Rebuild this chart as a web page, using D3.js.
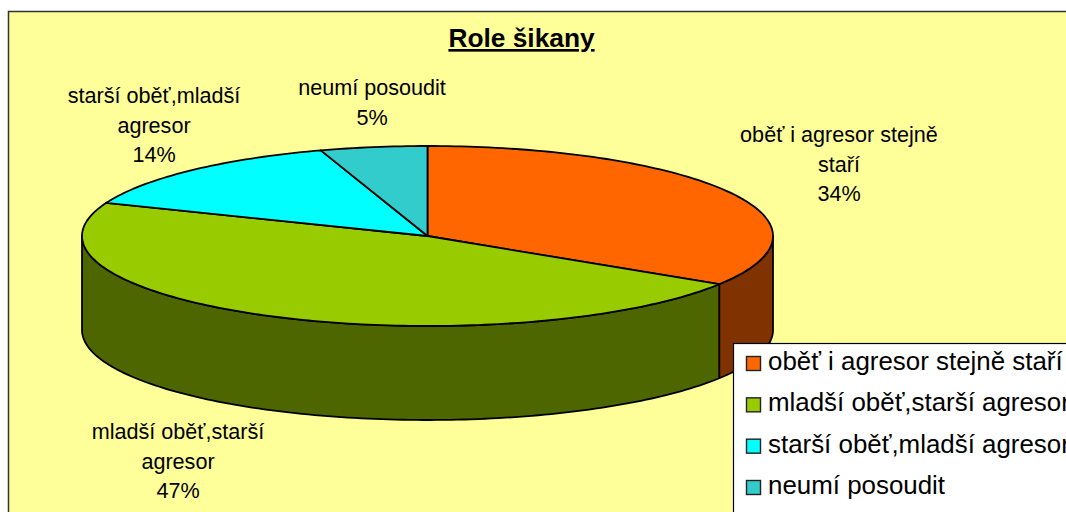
<!DOCTYPE html>
<html lang="cs">
<head>
<meta charset="utf-8">
<script src="https://cdn.jsdelivr.net/npm/d3@7"></script>
<style>
html,body{margin:0;padding:0;background:#fff;overflow:hidden}
svg{display:block}
text{font-family:"Liberation Sans",Arial,sans-serif;fill:#000}
</style>
</head>
<body>
<svg id="c" width="1066" height="512"></svg>
<script>
const chartTitle = "Role šikany";
const categories = ["oběť i agresor stejně staří","mladší oběť,starší agresor","starší oběť,mladší agresor","neumí posoudit"];
const values = [34,47,14,5];
const topColors = ["#ff6600","#99cc00","#00ffff","#33cccc"];
const sideColors = ["#803300","#4d6600","#008080","#1a6666"];
const labelLines = [["oběť i agresor stejně","staří"],["mladší oběť,starší","agresor"],["starší oběť,mladší","agresor"],["neumí posoudit"]];

const W=1066,H=512;
const svg=d3.select("#c");
const cx=427.5, cy=236, rx=345.5, ry=90, depth=94;
const sx=d3.scaleLinear().domain([-1,1]).range([cx-rx,cx+rx]);
const sy=d3.scaleLinear().domain([-1,1]).range([cy-ry,cy+ry]);
const pt=(a,dy=0)=>[sx(Math.sin(a)),sy(-Math.cos(a))+dy];
const line=d3.line();
const arcPts=(a0,a1,dy=0)=>{const n=Math.max(2,Math.ceil(Math.abs(a1-a0)/0.02));
  return d3.range(n+1).map(i=>pt(a0+(a1-a0)*i/n,dy));};

// frame
svg.append("rect").attr("x",8.5).attr("y",11.5).attr("width",W+20).attr("height",H+20)
  .attr("fill","#ffff99").attr("stroke","#333").attr("stroke-width",1.5);

// title
svg.append("text").attr("x",521.5).attr("y",47).attr("text-anchor","middle")
  .attr("font-size",26.3).attr("font-weight","bold").attr("text-decoration","underline").text(chartTitle);

const arcs=d3.pie().sort(null)(values);
const g=svg.append("g").attr("stroke","#000").attr("stroke-width",1.8).attr("stroke-linejoin","round");

// side walls (front half only)
arcs.forEach((d,i)=>{
  const a0=Math.max(d.startAngle,Math.PI/2), a1=Math.min(d.endAngle,Math.PI*1.5);
  if(a1<=a0) return;
  const pts=arcPts(a0,a1,0).concat(arcPts(a1,a0,depth));
  g.append("path").attr("d",line(pts)+"Z").attr("fill",sideColors[i]);
});
// top slices
arcs.forEach((d,i)=>{
  const pts=[[cx,cy]].concat(arcPts(d.startAngle,d.endAngle));
  g.append("path").attr("d",line(pts)+"Z").attr("fill",topColors[i]);
});

// data labels
const labelPos=[[839,142],[178,439],[154,103],[372,95]];
const fmt=d=>d+"%";
labelLines.forEach((lines,i)=>{
  const t=svg.append("text").attr("text-anchor","middle").attr("font-size",21.6);
  const rows=lines.concat([fmt(values[i])]);
  rows.forEach((s,j)=>t.append("tspan").attr("x",labelPos[i][0]).attr("y",labelPos[i][1]+j*29.5).text(s));
});

// legend
const legend=svg.append("g");
legend.append("rect").attr("x",733.5).attr("y",343.5).attr("width",400).attr("height",300)
  .attr("fill","#fff").attr("stroke","#000").attr("stroke-width",1.2);
const rowY=d3.scalePoint().domain(categories).range([362,486]);
categories.forEach((c,i)=>{
  legend.append("rect").attr("x",746.5).attr("y",rowY(c)-5.5).attr("width",14).attr("height",14)
    .attr("fill",topColors[i]).attr("stroke","#222").attr("stroke-width",1.4);
  legend.append("text").attr("x",768).attr("y",rowY(c)+8).attr("font-size",25.9).text(c);
});
</script>
</body>
</html>
